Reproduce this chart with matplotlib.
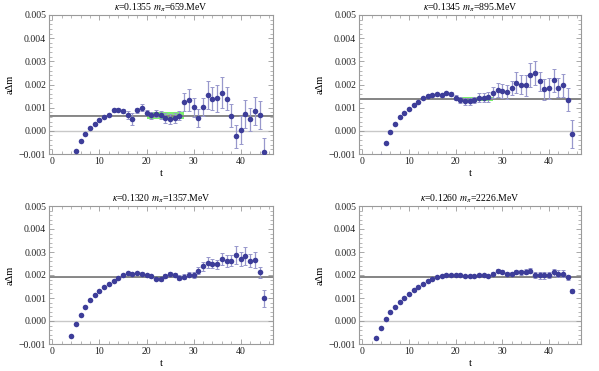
import matplotlib
matplotlib.use("Agg")
import matplotlib.pyplot as plt
import numpy as np
from matplotlib.ticker import MultipleLocator, FuncFormatter

# ---------------- data ----------------
titles = [r"$\kappa$=0.1355 $m_\pi$=659.MeV",
          r"$\kappa$=0.1345 $m_\pi$=895.MeV",
          r"$\kappa$=0.1320 $m_\pi$=1357.MeV",
          r"$\kappa$=0.1260 $m_\pi$=2226.MeV"]

t1 = list(range(5, 46))
y1 = [-0.00089, -0.00042, -0.00012, 0.00013, 0.00030, 0.00045, 0.00059, 0.00069, 0.00089, 0.00092,
      0.00087, 0.00069, 0.00052, 0.00089, 0.00100, 0.00078, 0.00068, 0.00074, 0.00069, 0.00055,
      0.00052, 0.00055, 0.00065, 0.00124, 0.00133, 0.00101, 0.00056, 0.00102, 0.00153, 0.00139,
      0.00140, 0.00165, 0.00139, 0.00065, -0.00023, 0.00004, 0.00072, 0.00050, 0.00085, 0.00069,
      -0.00092]
e1 = [0.00002, 0.00002, 0.00003, 0.00003, 0.00003, 0.00004, 0.00004, 0.00005, 0.00006, 0.00006,
      0.00008, 0.00017, 0.00027, 0.00010, 0.00015, 0.00010, 0.00015, 0.00015, 0.00018, 0.00020,
      0.00022, 0.00020, 0.00020, 0.00040, 0.00048, 0.00040, 0.00040, 0.00040, 0.00060, 0.00050,
      0.00060, 0.00068, 0.00050, 0.00050, 0.00050, 0.00060, 0.00060, 0.00050, 0.00060, 0.00060,
      0.00060]

t2 = list(range(4, 46))
y2 = [-0.00115, -0.00052, -0.00007, 0.00030, 0.00059, 0.00079, 0.00095, 0.00111, 0.00126, 0.00141,
      0.00149, 0.00154, 0.00157, 0.00153, 0.00162, 0.00159, 0.00143, 0.00134, 0.00128, 0.00127,
      0.00133, 0.00143, 0.00143, 0.00146, 0.00165, 0.00176, 0.00173, 0.00169, 0.00183, 0.00208,
      0.00199, 0.00196, 0.00241, 0.00250, 0.00214, 0.00180, 0.00183, 0.00218, 0.00186, 0.00196,
      0.00134, -0.00012]
e2 = [0.00002, 0.00002, 0.00002, 0.00003, 0.00003, 0.00003, 0.00004, 0.00004, 0.00004, 0.00005,
      0.00005, 0.00005, 0.00006, 0.00006, 0.00007, 0.00008, 0.00010, 0.00012, 0.00015, 0.00015,
      0.00015, 0.00020, 0.00020, 0.00020, 0.00025, 0.00030, 0.00030, 0.00030, 0.00030, 0.00045,
      0.00040, 0.00045, 0.00050, 0.00050, 0.00040, 0.00045, 0.00045, 0.00050, 0.00040, 0.00050,
      0.00050, 0.00060]

t3 = list(range(4, 46))
y3 = [-0.00065, -0.00012, 0.00027, 0.00062, 0.00092, 0.00115, 0.00130, 0.00147, 0.00163, 0.00176,
      0.00189, 0.00199, 0.00208, 0.00206, 0.00209, 0.00206, 0.00199, 0.00195, 0.00183, 0.00182,
      0.00195, 0.00205, 0.00199, 0.00188, 0.00193, 0.00202, 0.00202, 0.00218, 0.00237, 0.00254,
      0.00250, 0.00247, 0.00270, 0.00261, 0.00263, 0.00287, 0.00268, 0.00283, 0.00263, 0.00264,
      0.00211, 0.00098]
e3 = [0.00002, 0.00002, 0.00002, 0.00002, 0.00003, 0.00003, 0.00003, 0.00003, 0.00003, 0.00003,
      0.00004, 0.00004, 0.00004, 0.00004, 0.00004, 0.00005, 0.00005, 0.00006, 0.00006, 0.00007,
      0.00008, 0.00009, 0.00009, 0.00010, 0.00010, 0.00012, 0.00013, 0.00015, 0.00018, 0.00025,
      0.00020, 0.00020, 0.00025, 0.00025, 0.00025, 0.00038, 0.00030, 0.00038, 0.00030, 0.00035,
      0.00025, 0.00038]

t4 = list(range(3, 46))
y4 = [-0.00075, -0.00029, 0.00010, 0.00039, 0.00062, 0.00084, 0.00102, 0.00118, 0.00133, 0.00146,
      0.00160, 0.00172, 0.00183, 0.00190, 0.00195, 0.00200, 0.00199, 0.00198, 0.00199, 0.00196,
      0.00195, 0.00196, 0.00199, 0.00198, 0.00196, 0.00206, 0.00218, 0.00215, 0.00206, 0.00206,
      0.00212, 0.00211, 0.00215, 0.00219, 0.00200, 0.00198, 0.00199, 0.00200, 0.00211, 0.00205,
      0.00206, 0.00190, 0.00130]
e4 = [0.00002, 0.00002, 0.00002, 0.00002, 0.00002, 0.00002, 0.00002, 0.00002, 0.00002, 0.00002,
      0.00002, 0.00002, 0.00002, 0.00002, 0.00002, 0.00002, 0.00002, 0.00003, 0.00003, 0.00003,
      0.00003, 0.00003, 0.00003, 0.00004, 0.00004, 0.00005, 0.00007, 0.00007, 0.00008, 0.00008,
      0.00009, 0.00009, 0.00010, 0.00010, 0.00015, 0.00015, 0.00015, 0.00015, 0.00015, 0.00015,
      0.00015, 0.00012, 0.00010]

fit_values = [0.00066, 0.00138, 0.00190, 0.00192]
fit_errors = [0.00004, 0.00004, 0.00003, 0.00003]
plateau_errors = [0.00016, 0.00009, 0.00005, 0.00002]
plateau_range = (20, 28)

series = [(t1, y1, e1), (t2, y2, e2), (t3, y3, e3), (t4, y4, e4)]

# ---------------- layout ----------------
W, H = 599, 371
fig = plt.figure(figsize=(W / 100, H / 100), dpi=100)
plt.rcParams['font.family'] = ['Liberation Serif', 'DejaVu Serif']
plt.rcParams['mathtext.fontset'] = 'stix'

boxes = [(49, 15, 273, 154), (359, 15, 581, 154),
         (49, 206, 273, 344), (359, 206, 581, 344)]

frame_col = '#9a9a9a'
pt_col = '#3d3d99'
err_col = '#9898cc'

for i, ((x0, y0, x1, y1p), (t, y, e)) in enumerate(zip(boxes, series)):
    ax = fig.add_axes([x0 / W, 1 - y1p / H, (x1 - x0) / W, (y1p - y0) / H])
    ax.set_xlim(-0.7, 46.85)
    ax.set_ylim(-0.001, 0.005)
    # plateau band
    ax.fill_between(plateau_range, fit_values[i] - plateau_errors[i],
                    fit_values[i] + plateau_errors[i], color='#66ee55', alpha=0.85,
                    lw=0, zorder=1)
    # zero line
    ax.axhline(0, color='#c8c8c8', lw=1.0, zorder=1.5)
    # fit band + line
    ax.axhspan(fit_values[i] - fit_errors[i], fit_values[i] + fit_errors[i],
               color='#d0d0d0', lw=0, zorder=1.6)
    ax.axhline(fit_values[i], color='#808080', lw=1.3, zorder=1.7)
    ax.errorbar(t, y, yerr=e, fmt='none', ecolor=err_col, elinewidth=0.9,
                capsize=1.3, capthick=0.7, zorder=2)
    ax.plot(t, y, 'o', color=pt_col, ms=4.0, mec=pt_col, mew=0, zorder=3)

    for s in ax.spines.values():
        s.set_color(frame_col)
        s.set_linewidth(0.8)
    ax.xaxis.set_major_locator(MultipleLocator(10))
    ax.xaxis.set_minor_locator(MultipleLocator(2))
    ax.yaxis.set_major_locator(MultipleLocator(0.001))
    ax.yaxis.set_minor_locator(MultipleLocator(0.0002))
    ax.yaxis.set_major_formatter(FuncFormatter(
        lambda v, p: ("\u2212" if v < -1e-12 else "") + "%.3f" % abs(v)))
    ax.tick_params(which='both', direction='in', top=True, right=True,
                   color=frame_col, labelsize=7, pad=2, labelcolor='#222222')
    ax.tick_params(which='major', length=3.5, width=0.6)
    ax.tick_params(which='minor', length=2, width=0.5)
    ax.set_title(titles[i], fontsize=7, pad=3)
    ax.set_xlabel('t', fontsize=7.5, labelpad=2)
    ax.set_ylabel('a\u0394m', fontsize=7.5, labelpad=3)

fig.savefig('out.png', dpi=100)
